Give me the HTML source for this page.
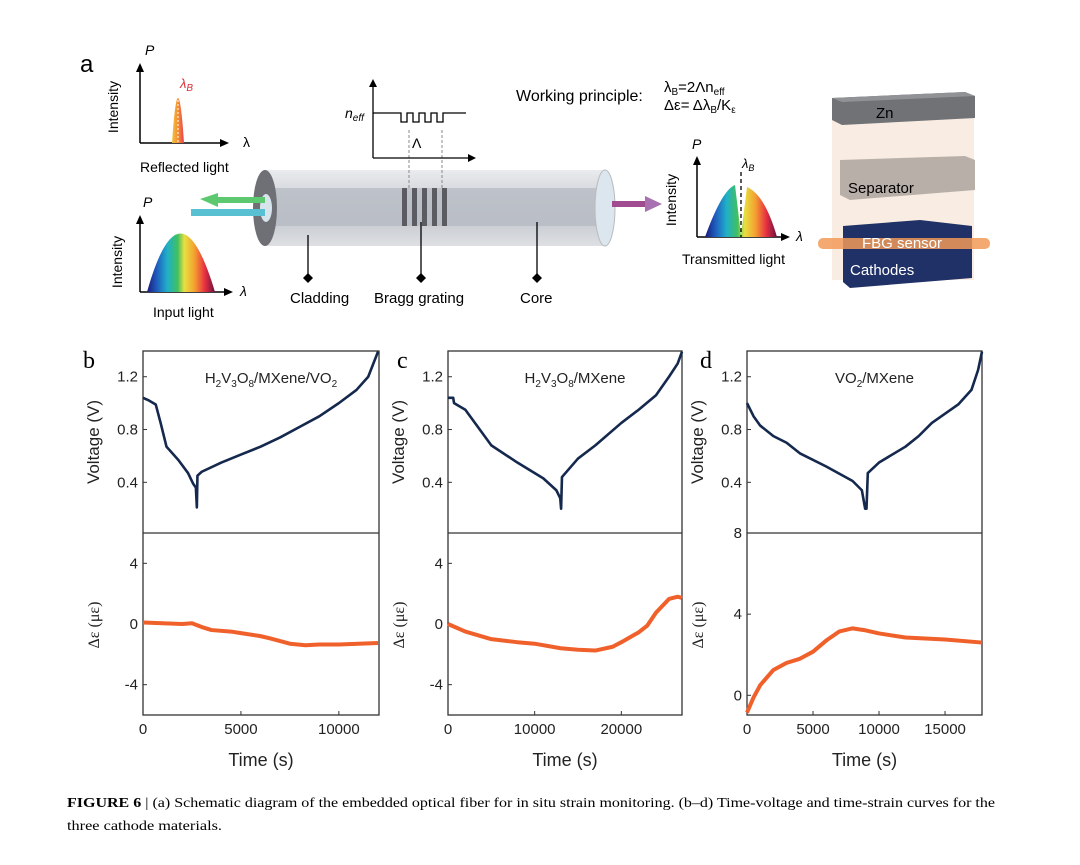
<!DOCTYPE html>
<html><head><meta charset="utf-8"><style>
body{margin:0;background:#fff}
svg text{font-family:"Liberation Sans",sans-serif}
</style></head><body>
<svg id="fig" width="1080" height="860" viewBox="0 0 1080 860" xmlns="http://www.w3.org/2000/svg">
<defs>
<linearGradient id="rainbow" x1="0" x2="1" y1="0" y2="0">
<stop offset="0" stop-color="#1a1a7a"/><stop offset="0.15" stop-color="#1f5fc0"/><stop offset="0.3" stop-color="#20b0c8"/><stop offset="0.45" stop-color="#40c060"/><stop offset="0.55" stop-color="#e8e040"/><stop offset="0.7" stop-color="#f4a030"/><stop offset="0.85" stop-color="#e83040"/><stop offset="1" stop-color="#6a1040"/>
</linearGradient>
<linearGradient id="peak" x1="0" x2="1" y1="0" y2="0">
<stop offset="0" stop-color="#f4c040"/><stop offset="0.5" stop-color="#f49030"/><stop offset="1" stop-color="#e84050"/>
</linearGradient>
<linearGradient id="cyl" x1="0" x2="0" y1="0" y2="1">
<stop offset="0" stop-color="#e6e8ec"/><stop offset="0.35" stop-color="#c9ccd2"/><stop offset="0.7" stop-color="#bfc3ca"/><stop offset="1" stop-color="#d8dade"/>
</linearGradient>
</defs>
<g id="schematic">
<text x="80" y="72" font-size="24">a</text>
<g>
<line x1="140" y1="143" x2="140" y2="70" stroke="#000" stroke-width="1.5"/><polygon points="136,72 144,72 140,63" fill="#000"/>
<line x1="140" y1="143" x2="222" y2="143" stroke="#000" stroke-width="1.5"/><polygon points="220,139 220,147 229,143" fill="#000"/>
<path d="M172,143 Q175,98 178,98 Q181,98 184,143 Z" fill="url(#peak)"/><line x1="178" y1="100" x2="178" y2="143" stroke="#fff" stroke-dasharray="2,2"/>
<text x="145" y="55" font-size="14" font-style="italic">P</text>
<text x="180" y="88" font-size="13" font-style="italic" fill="#d8303a">λ<tspan font-size="10" dy="3">B</tspan></text>
<text x="243" y="147" font-size="14">λ</text>
<text transform="translate(118,107) rotate(-90)" text-anchor="middle" font-size="14">Intensity</text>
<text x="140" y="172" font-size="14">Reflected light</text>
</g>
<g>
<line x1="140" y1="292" x2="140" y2="222" stroke="#000" stroke-width="1.5"/><polygon points="136,224 144,224 140,215" fill="#000"/>
<line x1="140" y1="292" x2="226" y2="292" stroke="#000" stroke-width="1.5"/><polygon points="224,288 224,296 233,292" fill="#000"/>
<path d="M147,292 Q180,175 215,292 Z" fill="url(#rainbow)"/>
<text x="143" y="207" font-size="14" font-style="italic">P</text>
<text x="240" y="296" font-size="14" font-style="italic">λ</text>
<text transform="translate(122,262) rotate(-90)" text-anchor="middle" font-size="14">Intensity</text>
<text x="153" y="317" font-size="14">Input light</text>
</g>
<g>
<rect x="265" y="170" width="340" height="76" fill="url(#cyl)" opacity="0.85"/>
<rect x="270" y="188" width="335" height="38" fill="#b4b8c0" opacity="0.7"/>
<ellipse cx="605" cy="208" rx="10" ry="38" fill="#dbe6ee" stroke="#bbb"/>
<ellipse cx="265" cy="208" rx="12" ry="38" fill="#6e7076"/>
<ellipse cx="266" cy="208" rx="6" ry="14" fill="#d8e4ec"/>
<g fill="#5a5c62"><rect x="402" y="188" width="5" height="38"/><rect x="412" y="188" width="5" height="38"/><rect x="422" y="188" width="5" height="38"/><rect x="432" y="188" width="5" height="38"/><rect x="442" y="188" width="5" height="38"/></g>
<polygon points="200,199 218,193 218,197 265,197 265,203 218,203 218,207" fill="#5cc870"/>
<rect x="191" y="209" width="74" height="7" fill="#58c0d0"/>
<rect x="612" y="201" width="35" height="6" fill="#a04a90"/><polygon points="645,196 662,204 645,212" fill="#a870b0"/>
<line x1="409" y1="130" x2="409" y2="188" stroke="#888" stroke-dasharray="3,2"/><line x1="442" y1="130" x2="442" y2="188" stroke="#888" stroke-dasharray="3,2"/>
<g stroke="#000" stroke-width="1.3"><line x1="308" y1="235" x2="308" y2="278"/><line x1="421" y1="222" x2="421" y2="278"/><line x1="537" y1="222" x2="537" y2="278"/></g>
<g fill="#000"><polygon points="308,273 313,278 308,283 303,278"/><polygon points="421,273 426,278 421,283 416,278"/><polygon points="537,273 542,278 537,283 532,278"/></g>
<text x="290" y="303" font-size="15">Cladding</text><text x="374" y="303" font-size="15">Bragg grating</text><text x="520" y="303" font-size="15">Core</text>
</g>
<g>
<line x1="373" y1="158" x2="373" y2="85" stroke="#000" stroke-width="1.3"/><polygon points="369,87 377,87 373,79" fill="#000"/>
<line x1="373" y1="158" x2="470" y2="158" stroke="#000" stroke-width="1.3"/><polygon points="468,154 468,162 476,158" fill="#000"/>
<path d="M373,113 H401 V122 H407 V113 H413 V122 H419 V113 H425 V122 H431 V113 H437 V122 H443 V113 H466" fill="none" stroke="#000" stroke-width="1.3"/>
<text x="345" y="118" font-size="14" font-style="italic">n<tspan font-size="10" dy="3">eff</tspan></text>
<text x="412" y="148" font-size="14">Λ</text>
</g>
<text x="516" y="101" font-size="16">Working principle:</text>
<text x="664" y="92" font-size="15">λ<tspan font-size="10" dy="3">B</tspan><tspan dy="-3">=2Λn</tspan><tspan font-size="10" dy="3">eff</tspan></text>
<text x="664" y="110" font-size="15">Δε= Δλ<tspan font-size="10" dy="3">B</tspan><tspan dy="-3">/K</tspan><tspan font-size="10" dy="3">ε</tspan></text>
<g>
<line x1="697" y1="237" x2="697" y2="163" stroke="#000" stroke-width="1.5"/><polygon points="693,165 701,165 697,156" fill="#000"/>
<line x1="697" y1="237" x2="783" y2="237" stroke="#000" stroke-width="1.5"/><polygon points="781,233 781,241 790,237" fill="#000"/>
<path d="M705,237 Q722,190 735,185 L741,235 L747,187 Q765,195 777,237 Z" fill="url(#rainbow)"/>
<line x1="741" y1="172" x2="741" y2="237" stroke="#000" stroke-dasharray="4,3" stroke-width="1.3"/>
<text x="692" y="149" font-size="14" font-style="italic">P</text>
<text x="742" y="168" font-size="13" font-style="italic">λ<tspan font-size="9" dy="3">B</tspan></text>
<text x="796" y="241" font-size="14" font-style="italic">λ</text>
<text transform="translate(676,200) rotate(-90)" text-anchor="middle" font-size="14">Intensity</text>
<text x="682" y="264" font-size="14">Transmitted light</text>
</g>
<g>
<rect x="832" y="100" width="142" height="180" fill="#f6e4d6" opacity="0.7"/>
<polygon points="832,98 965,92 975,96 975,118 842,125 832,120" fill="#707276"/>
<polygon points="832,98 965,92 975,96 842,102" fill="#909296"/>
<text x="876" y="118" font-size="15">Zn</text>
<polygon points="840,160 965,156 975,160 975,190 850,200 840,195" fill="#b8b0a8"/>
<text x="848" y="193" font-size="15">Separator</text>
<polygon points="843,226 920,220 972,226 972,278 850,288 843,282" fill="#1f3166"/>
<rect x="818" y="238" width="172" height="11" rx="5" fill="#f29a58" opacity="0.85"/>
<text x="862" y="248" font-size="15" fill="#fff">FBG sensor</text>
<text x="850" y="275" font-size="15" fill="#fff">Cathodes</text>
</g>
</g>
<g id="charts"></g>
<text x="67" y="807" font-size="14" textLength="928" lengthAdjust="spacingAndGlyphs" style="font-family:'Liberation Serif',serif"><tspan font-weight="bold">FIGURE 6</tspan>  |  (a) Schematic diagram of the embedded optical fiber for in situ strain monitoring. (b–d) Time-voltage and time-strain curves for the</text>
<text x="67" y="830" font-size="14" textLength="155" lengthAdjust="spacingAndGlyphs" style="font-family:'Liberation Serif',serif">three cathode materials.</text>
</svg>
<script>
// Panel b
const bVoltT=[0,300,650,900,1200,1800,2300,2560,2700,2750,2780,3000,4000,5000,6000,7000,8000,9000,10000,10900,11500,12000];
const bVoltV=[1.04,1.02,0.99,0.85,0.67,0.57,0.47,0.39,0.36,0.21,0.45,0.48,0.55,0.61,0.67,0.74,0.82,0.9,1.0,1.1,1.2,1.39];
const bStrT=[0,1000,2000,2500,3000,3500,4500,5000,6000,6500,7500,8300,9000,10000,11000,12000];
const bStrV=[0.1,0.05,0.0,0.05,-0.2,-0.4,-0.5,-0.6,-0.8,-0.95,-1.3,-1.4,-1.35,-1.35,-1.3,-1.25];
// Panel c
const cVoltT=[0,600,700,2000,5000,8000,11000,12500,12950,13050,13150,15000,17000,20000,22000,24000,25500,26500,27000];
const cVoltV=[1.04,1.04,1.0,0.95,0.68,0.55,0.43,0.34,0.28,0.2,0.44,0.58,0.68,0.85,0.95,1.06,1.2,1.3,1.39];
const cStrT=[0,2000,5000,8000,10000,13000,15000,17000,19000,20000,22000,23000,24000,25500,26500,27000];
const cStrV=[0,-0.5,-1.0,-1.2,-1.3,-1.6,-1.7,-1.75,-1.5,-1.2,-0.55,-0.1,0.75,1.65,1.8,1.72];
// Panel d
const dVoltT=[0,500,1000,2000,3000,4000,6000,8000,8700,8950,9050,9150,10000,12000,13000,14000,16000,17000,17500,17800];
const dVoltV=[1.0,0.9,0.83,0.75,0.7,0.62,0.52,0.41,0.34,0.2,0.2,0.47,0.55,0.67,0.75,0.85,0.99,1.1,1.25,1.39];
const dStrT=[0,500,1000,2000,3000,4000,5000,6000,7000,8000,9000,10000,12000,15000,17800];
const dStrV=[-0.85,-0.1,0.5,1.25,1.6,1.8,2.15,2.7,3.15,3.3,3.2,3.05,2.85,2.75,2.6];
// Axis tick labels
const voltTicks=[0.4,0.8,1.2];
const strainTicksBC=[-4,0,4];
const strainTicksD=[0,4,8];
const xTicksB=[0,5000,10000];
const xTicksC=[0,10000,20000];
const xTicksD=[0,5000,10000,15000];

const NS='http://www.w3.org/2000/svg';
const root=document.getElementById('charts');
function mk(tag,attrs,parent){const e=document.createElementNS(NS,tag);for(const k in attrs)e.setAttribute(k,attrs[k]);(parent||root).appendChild(e);return e;}
const top0=351,mid=533,bot=715;
function panel(id,letter,letterOff,title,left,right,xmax,xticks,vt,vv,st,sv,smin,smax,sticks){
  const g=mk('g',{});
  
  
  const sx=t=>left+(t/xmax)*(right-left);
  const syV=v=>mid-(v-0.016)/(1.395-0.016)*(mid-top0);
  const syS=v=>bot-(v-smin)/(smax-smin)*(bot-mid);
  const frame=mk('rect',{x:left,y:top0,width:right-left,height:bot-top0,fill:'none',stroke:'#333','stroke-width':1.3},g);
  
  
  mk('line',{x1:left,x2:right,y1:mid,y2:mid,stroke:'#333','stroke-width':1.3},g);
  voltTicks.forEach(v=>{const y=syV(v);mk('line',{x1:left,x2:left+4,y1:y,y2:y,stroke:'#333'},g);
    const t=mk('text',{x:left-5,y:y+5,'text-anchor':'end','font-size':15,fill:'#222'},g);t.textContent=v.toFixed(1);
    
    });
  sticks.forEach(v=>{const y=syS(v);mk('line',{x1:left,x2:left+4,y1:y,y2:y,stroke:'#333'},g);
    const t=mk('text',{x:left-5,y:y+5,'text-anchor':'end','font-size':15,fill:'#222'},g);t.textContent=String(v);
    
    });
  xticks.forEach(v=>{const x=sx(v);mk('line',{x1:x,x2:x,y1:bot,y2:bot-4,stroke:'#333'},g);
    const t=mk('text',{x:x,y:bot+19,'text-anchor':'middle','font-size':15,fill:'#222'},g);t.textContent=String(v);
    
    });
  const vp=mk('polyline',{points:vt.map((t,i)=>sx(t)+','+syV(vv[i])).join(' '),fill:'none',stroke:'#15284d','stroke-width':2.6,'stroke-linejoin':'round'},g);
  
  
  const sp=mk('polyline',{points:st.map((t,i)=>sx(t)+','+syS(sv[i])).join(' '),fill:'none',stroke:'#f0602a','stroke-width':4,'stroke-linejoin':'round'},g);
  
  
  const L=mk('text',{x:left-letterOff,y:368,'font-size':24,style:"font-family:'Liberation Serif',serif"},g);L.textContent=letter;
  
  
  const yl=mk('text',{transform:`translate(${left-44},${442}) rotate(-90)`,'text-anchor':'middle','font-size':17,fill:'#222'},g);yl.textContent='Voltage (V)';
  
  
  const sl=mk('text',{transform:`translate(${left-44},${625}) rotate(-90)`,'text-anchor':'middle','font-size':16,fill:'#222',style:"font-family:'Liberation Serif',serif"},g);sl.textContent='Δε (με)';
  
  
  const xl=mk('text',{x:(left+right)/2,y:766,'text-anchor':'middle','font-size':18,fill:'#222'},g);xl.textContent='Time (s)';
  
  
  const ti=mk('text',{x:(left+right)/2+10,y:383,'text-anchor':'middle','font-size':15,fill:'#222'},g);ti.innerHTML=title;
  
  
}
const sub=s=>`<tspan font-size="10" dy="4">${s}</tspan><tspan dy="-4">`;
panel('b','b',60,'H'+sub('2')+'V</tspan>'+sub('3')+'O</tspan>'+sub('8')+'/MXene/VO</tspan>'+sub('2')+'</tspan>',143,379,12050,xTicksB,bVoltT,bVoltV,bStrT,bStrV,-6,6,strainTicksBC);
panel('c','c',51,'H'+sub('2')+'V</tspan>'+sub('3')+'O</tspan>'+sub('8')+'/MXene</tspan>',448,682,27000,xTicksC,cVoltT,cVoltV,cStrT,cStrV,-6,6,strainTicksBC);
panel('d','d',47,'VO'+sub('2')+'/MXene</tspan>',747,982,17800,xTicksD,dVoltT,dVoltV,dStrT,dStrV,-0.97,8,strainTicksD);
</script>
</body></html>
